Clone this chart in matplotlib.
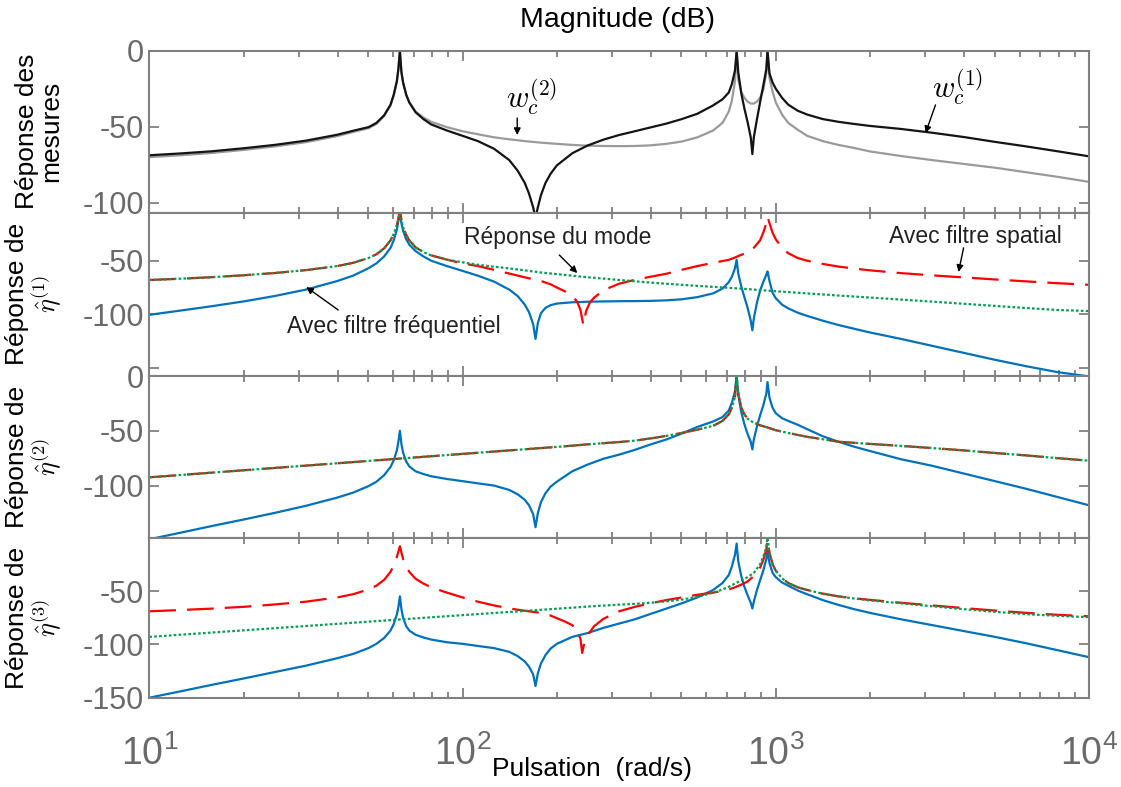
import matplotlib
matplotlib.use("Agg")
import matplotlib.pyplot as plt
import numpy as np

plt.rcParams.update({
    "font.family": ["Liberation Sans", "DejaVu Sans"],
    "mathtext.fontset": "cm",
    "axes.linewidth": 1.5,
    "axes.edgecolor": "#808080",
    "lines.linewidth": 1.6,
})

# all curves: (pulsation rad/s, magnitude dB)

# panel 1 : measured responses
meas_w1 = [(10, -68.8), (12.6, -67.6), (15.8, -66.2), (20, -64.2), (25.1, -62), (31.6, -59.2),
           (39.8, -55.3), (44.7, -52.7), (50.1, -50.3), (53.1, -47.5), (56.2, -42.5), (58.9, -35.5),
           (60.3, -29), (61.7, -20), (62.4, -12), (63.1, 0), (63.8, -14), (64.6, -21), (66.1, -29),
           (67.6, -34), (70.8, -40.5), (75, -45), (79.4, -48.5), (89.1, -52.5), (100, -56),
           (112, -59.5), (126, -64.5), (141, -72), (150, -79), (158, -87), (163, -94), (168, -103),
           (171, -110), (174, -103), (178, -95), (184, -87), (191, -81), (200, -75.5), (224, -67.5),
           (250, -62.5), (282, -58.5), (316, -55.5), (355, -53), (398, -50.5), (447, -48), (501, -45),
           (562, -41.5), (631, -36), (676, -32), (708, -27.5), (724, -22), (741, -13), (750, 0),
           (759, -14), (776, -28), (794, -38), (813, -47), (832, -57), (842, -68), (851, -57),
           (871, -45), (891, -34), (912, -23), (933, -12), (941, 0), (955, -15), (977, -21),
           (1000, -25), (1047, -31), (1096, -35.5), (1175, -39.5), (1259, -42), (1413, -45),
           (1585, -46.8), (1778, -48.2), (2000, -49.5), (2512, -51.5), (3162, -54), (3981, -56.8),
           (5012, -60), (6310, -63), (7943, -66.2), (10000, -69.5)]

meas_w2 = [(10, -70), (12.6, -68.8), (15.8, -67.3), (20, -65.3), (25.1, -63), (31.6, -60.2),
           (39.8, -56.2), (44.7, -53.5), (50.1, -51), (53.1, -48.2), (56.2, -43), (58.9, -36),
           (60.3, -29.5), (61.7, -20.5), (62.4, -12.5), (63.1, 0), (63.8, -14), (64.6, -21),
           (66.1, -29), (67.6, -34), (70.8, -40), (75, -44), (79.4, -46.8), (89.1, -50.3),
           (100, -53), (112, -55), (126, -57), (141, -58.3), (158, -59.5), (178, -60.5),
           (200, -61.3), (224, -62), (250, -62.5), (282, -62.7), (316, -62.8), (355, -62.7),
           (398, -62.3), (447, -61.3), (501, -59.8), (562, -57), (631, -52.5), (676, -47.5),
           (708, -40), (724, -33), (741, -20), (750, 0), (759, -19), (776, -27), (794, -31),
           (813, -33.5), (832, -34.8), (851, -34.8), (871, -33.5), (891, -31), (912, -26),
           (933, -15), (941, 0), (955, -18), (977, -27), (1000, -34), (1047, -42), (1096, -47.5),
           (1175, -52), (1259, -56), (1413, -59.5), (1585, -62), (1778, -64), (2000, -66.3),
           (2512, -69.3), (3162, -72), (3981, -74.5), (5012, -77), (6310, -80), (7943, -83),
           (10000, -86.3)]

# panel 2 : eta 1
mode_1 = [(10, -68), (12.6, -66.8), (15.8, -65.4), (20, -63.6), (25.1, -61.5), (31.6, -58.8),
          (39.8, -55), (44.7, -52), (50.1, -47.5), (53.1, -44), (56.2, -38.5), (58.9, -31),
          (60.3, -25), (61.7, -17), (62.4, -11), (63.1, -3), (63.8, -12), (64.6, -19), (66.1, -26),
          (67.6, -31), (70.8, -37.5), (75, -42), (79.4, -45), (89.1, -49), (100, -51.5),
          (112, -53.8), (126, -55.6), (141, -57.2), (158, -59), (178, -61), (200, -62.5),
          (224, -64), (250, -65.4), (282, -66.7), (316, -68), (355, -69.2), (398, -70.4),
          (447, -71.5), (501, -72.5), (562, -73.5), (631, -74.4), (708, -75.3), (794, -76.3),
          (891, -77.4), (1000, -78.5), (1259, -80.5), (1585, -82.5), (2000, -84.4), (2512, -86.3),
          (3162, -88.2), (3981, -90.2), (5012, -92.2), (6310, -94.2), (7943, -96), (10000, -97)]

spat_1 = [(10, -68), (12.6, -66.8), (15.8, -65.4), (20, -63.6), (25.1, -61.5), (31.6, -58.8),
          (39.8, -55), (44.7, -52), (50.1, -47.5), (53.1, -44), (56.2, -38.5), (58.9, -31),
          (60.3, -25), (61.7, -17), (62.4, -11), (63.1, -3), (63.8, -12), (64.6, -19), (66.1, -26),
          (67.6, -31), (70.8, -37.5), (75, -42), (79.4, -45), (89.1, -49), (100, -52.5),
          (112, -55), (126, -58.5), (141, -62), (158, -65.5), (178, -69), (191, -72), (200, -75),
          (212, -78.5), (224, -83), (232, -88), (238, -96), (243, -110), (248, -97), (255, -89),
          (263, -84.5), (282, -77.5), (316, -71.5), (355, -67.8), (398, -65), (447, -62.2),
          (501, -58.5), (562, -55), (631, -52), (676, -50.3), (708, -49.2), (741, -47), (776, -44.5),
          (813, -42.5), (851, -38), (891, -31), (912, -24), (933, -15), (941, -9), (955, -15),
          (977, -24), (1000, -30), (1047, -38), (1096, -43), (1175, -47.5), (1259, -50),
          (1413, -53), (1585, -55.5), (1778, -57.3), (2000, -59), (2512, -61.6), (3162, -63.7),
          (3981, -65.6), (5012, -67.5), (6310, -69.3), (7943, -71), (10000, -72.5)]

freq_1 = [(10, -100.5), (12.6, -96.5), (15.8, -92.5), (20, -88), (25.1, -83), (31.6, -77),
          (39.8, -69), (44.7, -64), (50.1, -57), (53.1, -52.5), (56.2, -46), (58.9, -38),
          (60.3, -31), (61.7, -21), (62.4, -13), (63.1, -3), (63.8, -15), (64.6, -22), (66.1, -30),
          (67.6, -35), (70.8, -41), (75, -46), (79.4, -50), (89.1, -55), (100, -59.5), (112, -64),
          (126, -69.5), (141, -77), (150, -83), (158, -91), (163, -98), (168, -109), (171, -123),
          (174, -108), (178, -99), (184, -94), (191, -91.5), (200, -90), (224, -88.8),
          (250, -88.3), (282, -88), (316, -87.8), (355, -87.7), (398, -87.5), (447, -87),
          (501, -86), (562, -84), (631, -80.5), (676, -76), (708, -70), (724, -65), (741, -57),
          (750, -49), (759, -62), (776, -74), (794, -84), (813, -94), (832, -106), (842, -115),
          (851, -104), (871, -89), (891, -78), (912, -70), (933, -63), (941, -60), (955, -69),
          (977, -80), (1000, -85), (1047, -91), (1096, -94.5), (1175, -98.5), (1259, -101.5),
          (1413, -106), (1585, -110), (1778, -113.5), (2000, -117), (2512, -123), (3162, -129.5),
          (3981, -136), (5012, -142.5), (6310, -148.5), (7943, -154), (10000, -158)]

# panel 3 : eta 2 (spatial filter = mode response)
mode_2 = [(10, -92.5), (31.6, -81.8), (100, -71.1), (200, -64.7), (224, -63.6), (250, -62.4),
          (282, -61.3), (316, -60.3), (355, -59), (398, -57), (447, -54.7), (501, -52), (562, -49),
          (631, -45.5), (676, -41), (708, -35), (724, -29), (741, -19), (750, 0), (759, -16),
          (776, -29), (794, -35), (813, -39), (832, -41), (851, -42.5), (891, -45), (941, -47),
          (1000, -49.5), (1096, -52), (1259, -55.5), (1585, -60), (2000, -62), (2512, -63.8),
          (3162, -65.8), (3981, -67.9), (5012, -70.3), (6310, -72.5), (7943, -75), (10000, -77.3)]

freq_2 = [(10, -149), (12.6, -143), (15.8, -137), (20, -131), (25.1, -125), (31.6, -118.5),
          (39.8, -111), (44.7, -106.5), (50.1, -100.5), (53.1, -96.5), (56.2, -90.5), (58.9, -83),
          (60.3, -77), (61.7, -68), (62.4, -60), (63.1, -50), (63.8, -62), (64.6, -70), (66.1, -78),
          (67.6, -82.5), (70.8, -87), (75, -89.5), (79.4, -91.5), (89.1, -94), (100, -96),
          (112, -98), (126, -100), (141, -104), (150, -108), (158, -113), (163, -118), (168, -126),
          (171, -138), (174, -125), (178, -115), (184, -107), (191, -101), (200, -96.5),
          (224, -87), (250, -81), (282, -75.5), (316, -71.8), (355, -67.4), (398, -62.5),
          (447, -58), (501, -52.5), (562, -46.5), (631, -41.5), (676, -37.5), (708, -31.5),
          (724, -24.5), (741, -14), (750, 0), (759, -17), (776, -33), (794, -44), (813, -53),
          (832, -60), (842, -67), (851, -58), (871, -46), (891, -36), (912, -27), (933, -16),
          (941, -5.5), (955, -20), (977, -29), (1000, -34), (1047, -38.5), (1096, -41),
          (1175, -44.5), (1259, -48.5), (1413, -55), (1585, -60), (1778, -64.5), (2000, -68.5),
          (2512, -76), (3162, -82), (3981, -89), (5012, -96), (6310, -103), (7943, -110.5),
          (10000, -118)]

# panel 4 : eta 3
mode_3 = [(10, -93), (31.6, -82.8), (100, -72.6), (200, -66.6), (224, -65.6), (250, -64.6),
          (282, -63.6), (316, -62.8), (355, -62), (398, -61), (447, -59.7), (501, -58), (562, -55.5),
          (631, -51.5), (676, -48.5), (708, -46), (741, -43), (776, -40), (813, -37), (851, -33),
          (891, -25), (912, -18), (933, -9), (941, 0), (955, -14), (977, -25), (1000, -31),
          (1047, -38), (1096, -42.5), (1175, -46.5), (1259, -49), (1413, -52.5), (1585, -55),
          (1778, -57), (2000, -58.8), (2512, -61.5), (3162, -64.3), (3981, -67), (5012, -69.5),
          (6310, -71.7), (7943, -73.3), (10000, -74.5)]

spat_3 = [(10, -69), (12.6, -67.8), (15.8, -66.5), (20, -64.8), (25.1, -62.6), (31.6, -60),
          (39.8, -56), (44.7, -53), (50.1, -48.5), (53.1, -45), (56.2, -39.5), (58.9, -32),
          (60.3, -26), (61.7, -18), (62.4, -13), (63.1, -8), (63.8, -14), (64.6, -20), (66.1, -27),
          (67.6, -32), (70.8, -38.5), (75, -43), (79.4, -46.5), (89.1, -51.5), (100, -56),
          (112, -60), (126, -63.5), (141, -66.3), (158, -68.5), (178, -70.5), (191, -73),
          (200, -75.5), (212, -78.5), (224, -82), (232, -87), (238, -95), (241, -108), (245, -98),
          (250, -92), (263, -83), (282, -76), (316, -69), (355, -64.8), (398, -61.5), (447, -58.5),
          (501, -56), (562, -53.5), (631, -51.5), (676, -50), (708, -48.5), (741, -46.5),
          (776, -44), (813, -41), (851, -36), (891, -28), (912, -21), (933, -11), (941, -2),
          (955, -14), (977, -25), (1000, -31), (1047, -38), (1096, -42.5), (1175, -46.5),
          (1259, -49), (1413, -52.5), (1585, -55), (1778, -56.8), (2000, -58.3), (2512, -61),
          (3162, -63.5), (3981, -66), (5012, -68.3), (6310, -70.5), (7943, -72.3), (10000, -73.7)]

freq_3 = [(10, -150), (12.6, -144), (15.8, -138), (20, -132), (25.1, -126), (31.6, -120),
          (39.8, -113), (44.7, -109), (50.1, -103.5), (53.1, -99.5), (56.2, -94), (58.9, -87),
          (60.3, -81), (61.7, -72), (62.4, -65), (63.1, -55), (63.8, -67), (64.6, -75), (66.1, -83),
          (67.6, -87), (70.8, -91), (75, -93.5), (79.4, -95.5), (89.1, -98), (100, -99.5),
          (112, -101.5), (126, -103.5), (141, -107), (150, -111), (158, -116), (163, -121),
          (168, -128), (171, -139), (174, -127), (178, -118), (184, -110), (191, -104),
          (200, -99.5), (224, -93), (250, -89.5), (282, -84.5), (316, -80.5), (355, -76.5),
          (398, -71.5), (447, -66.5), (501, -61.5), (562, -56), (631, -49), (676, -42.5),
          (708, -35), (724, -27), (741, -16), (750, -5.5), (759, -22), (776, -36), (794, -46),
          (813, -54), (832, -61), (842, -66.4), (851, -60), (871, -49), (891, -40), (912, -31),
          (933, -20), (941, -12), (955, -24), (977, -33), (1000, -37), (1047, -42), (1096, -45),
          (1175, -49.5), (1259, -53), (1413, -58.5), (1585, -63), (1778, -67), (2000, -70.5),
          (2512, -76.5), (3162, -82), (3981, -87.5), (5012, -93), (6310, -99), (7943, -105.5),
          (10000, -112)]

# axis settings
ylims = [(-106.6, 0), (-157.6, -5.2), (-147.6, 0), (-150, 0)]
yticks = [[-100, -50, 0], [-150, -100, -50], [-100, -50, 0], [-150, -100, -50]]
yticklabels = [["-100", "-50", "0"], ["", "-100", "-50"], ["-100", "-50", "0"],
               ["-150", "-100", "-50"]]
ylabels = ["Réponse des\nmesures",
           "Réponse de\n$\\hat{\\eta}^{(1)}$",
           "Réponse de\n$\\hat{\\eta}^{(2)}$",
           "Réponse de\n$\\hat{\\eta}^{(3)}$"]

blue = "#0072BD"
red = "#FF0000"
green = "#00A050"


def xy(pts):
    a = np.array(pts, dtype=float)
    return a[:, 0], a[:, 1]


W, H = 1121, 787
fig = plt.figure(figsize=(W / 100, H / 100), dpi=100)
rows_px = [(50.7, 212.7), (212.7, 376.0), (376.0, 537.7), (537.7, 697.7)]
left_px, right_px = 149.3, 1089.0
axes = [fig.add_axes([left_px / W, 1 - b / H, (right_px - left_px) / W, (b - t) / H])
        for (t, b) in rows_px]
ax1, ax2, ax3, ax4 = axes

ax1.plot(*xy(meas_w2), color="#9a9a9a")
ax1.plot(*xy(meas_w1), color="#141414")

ax2.plot(*xy(freq_1), color=blue)
ax2.plot(*xy(spat_1), color=red, dashes=(12, 5))
ax2.plot(*xy(mode_1), color=green, dashes=(1.2, 1.0))

ax3.plot(*xy(freq_2), color=blue)
ax3.plot(*xy(mode_2), color=red, dashes=(12, 5))
ax3.plot(*xy(mode_2), color=green, dashes=(1.2, 1.0))

ax4.plot(*xy(freq_3), color=blue)
ax4.plot(*xy(spat_3), color=red, dashes=(12, 5))
ax4.plot(*xy(mode_3), color=green, dashes=(1.2, 1.0))

for i, ax in enumerate(axes):
    ax.set_xscale("log")
    ax.set_xlim(10, 1e4)
    ax.set_ylim(*ylims[i])
    ax.set_yticks(yticks[i])
    ax.set_yticklabels(yticklabels[i])
    ax.tick_params(which="both", direction="in", top=True, right=True,
                   color="#808080", labelcolor="#6a6a6a", width=1.3)
    ax.tick_params(which="major", length=7.5, labelsize=22, pad=4)
    ax.tick_params(which="minor", length=4.5)
    ax.tick_params(axis="x", which="major", labelsize=27, pad=27)
    if i < 3:
        ax.tick_params(labelbottom=False)
    ax.set_ylabel(ylabels[i], fontsize=19, color="black", linespacing=1.0)
    ax.yaxis.set_label_coords(-0.092, 0.5)

fig.text(618 / W, 1 - 20 / H, "Magnitude (dB)", ha="center", va="center", fontsize=20.5)
fig.text(592 / W, 1 - 769 / H, "Pulsation  (rad/s)", ha="center", va="center", fontsize=19)

arrow = dict(arrowstyle="-|>", color="black", lw=1.0, mutation_scale=10, shrinkA=0, shrinkB=0)
note = dict(fontsize=16.5, ha="center", va="center", color="#222222")

ax1.text(165.8, -31, "$w_c^{(2)}$", fontsize=22, ha="center", va="center")
ax1.annotate("", xy=(149.5, -55.5), xytext=(149.5, -44.3), arrowprops=arrow)
ax1.text(3806, -24.5, "$w_c^{(1)}$", fontsize=22, ha="center", va="center")
ax1.annotate("", xy=(3006, -54.2), xytext=(3236, -35.7), arrowprops=arrow)

ax2.text(202, -28.8, "Réponse du mode", **note)
ax2.annotate("", xy=(232.5, -61.5), xytext=(203.7, -44.7), arrowprops=arrow)
ax2.text(4345, -27.8, "Avec filtre spatial", **note)
ax2.annotate("", xy=(3832, -60.5), xytext=(3978, -38), arrowprops=arrow)
ax2.text(60.5, -111, "Avec filtre fréquentiel", **note)
ax2.annotate("", xy=(31.7, -74.6), xytext=(40.1, -96), arrowprops=arrow)

fig.savefig("out.png", dpi=100)
